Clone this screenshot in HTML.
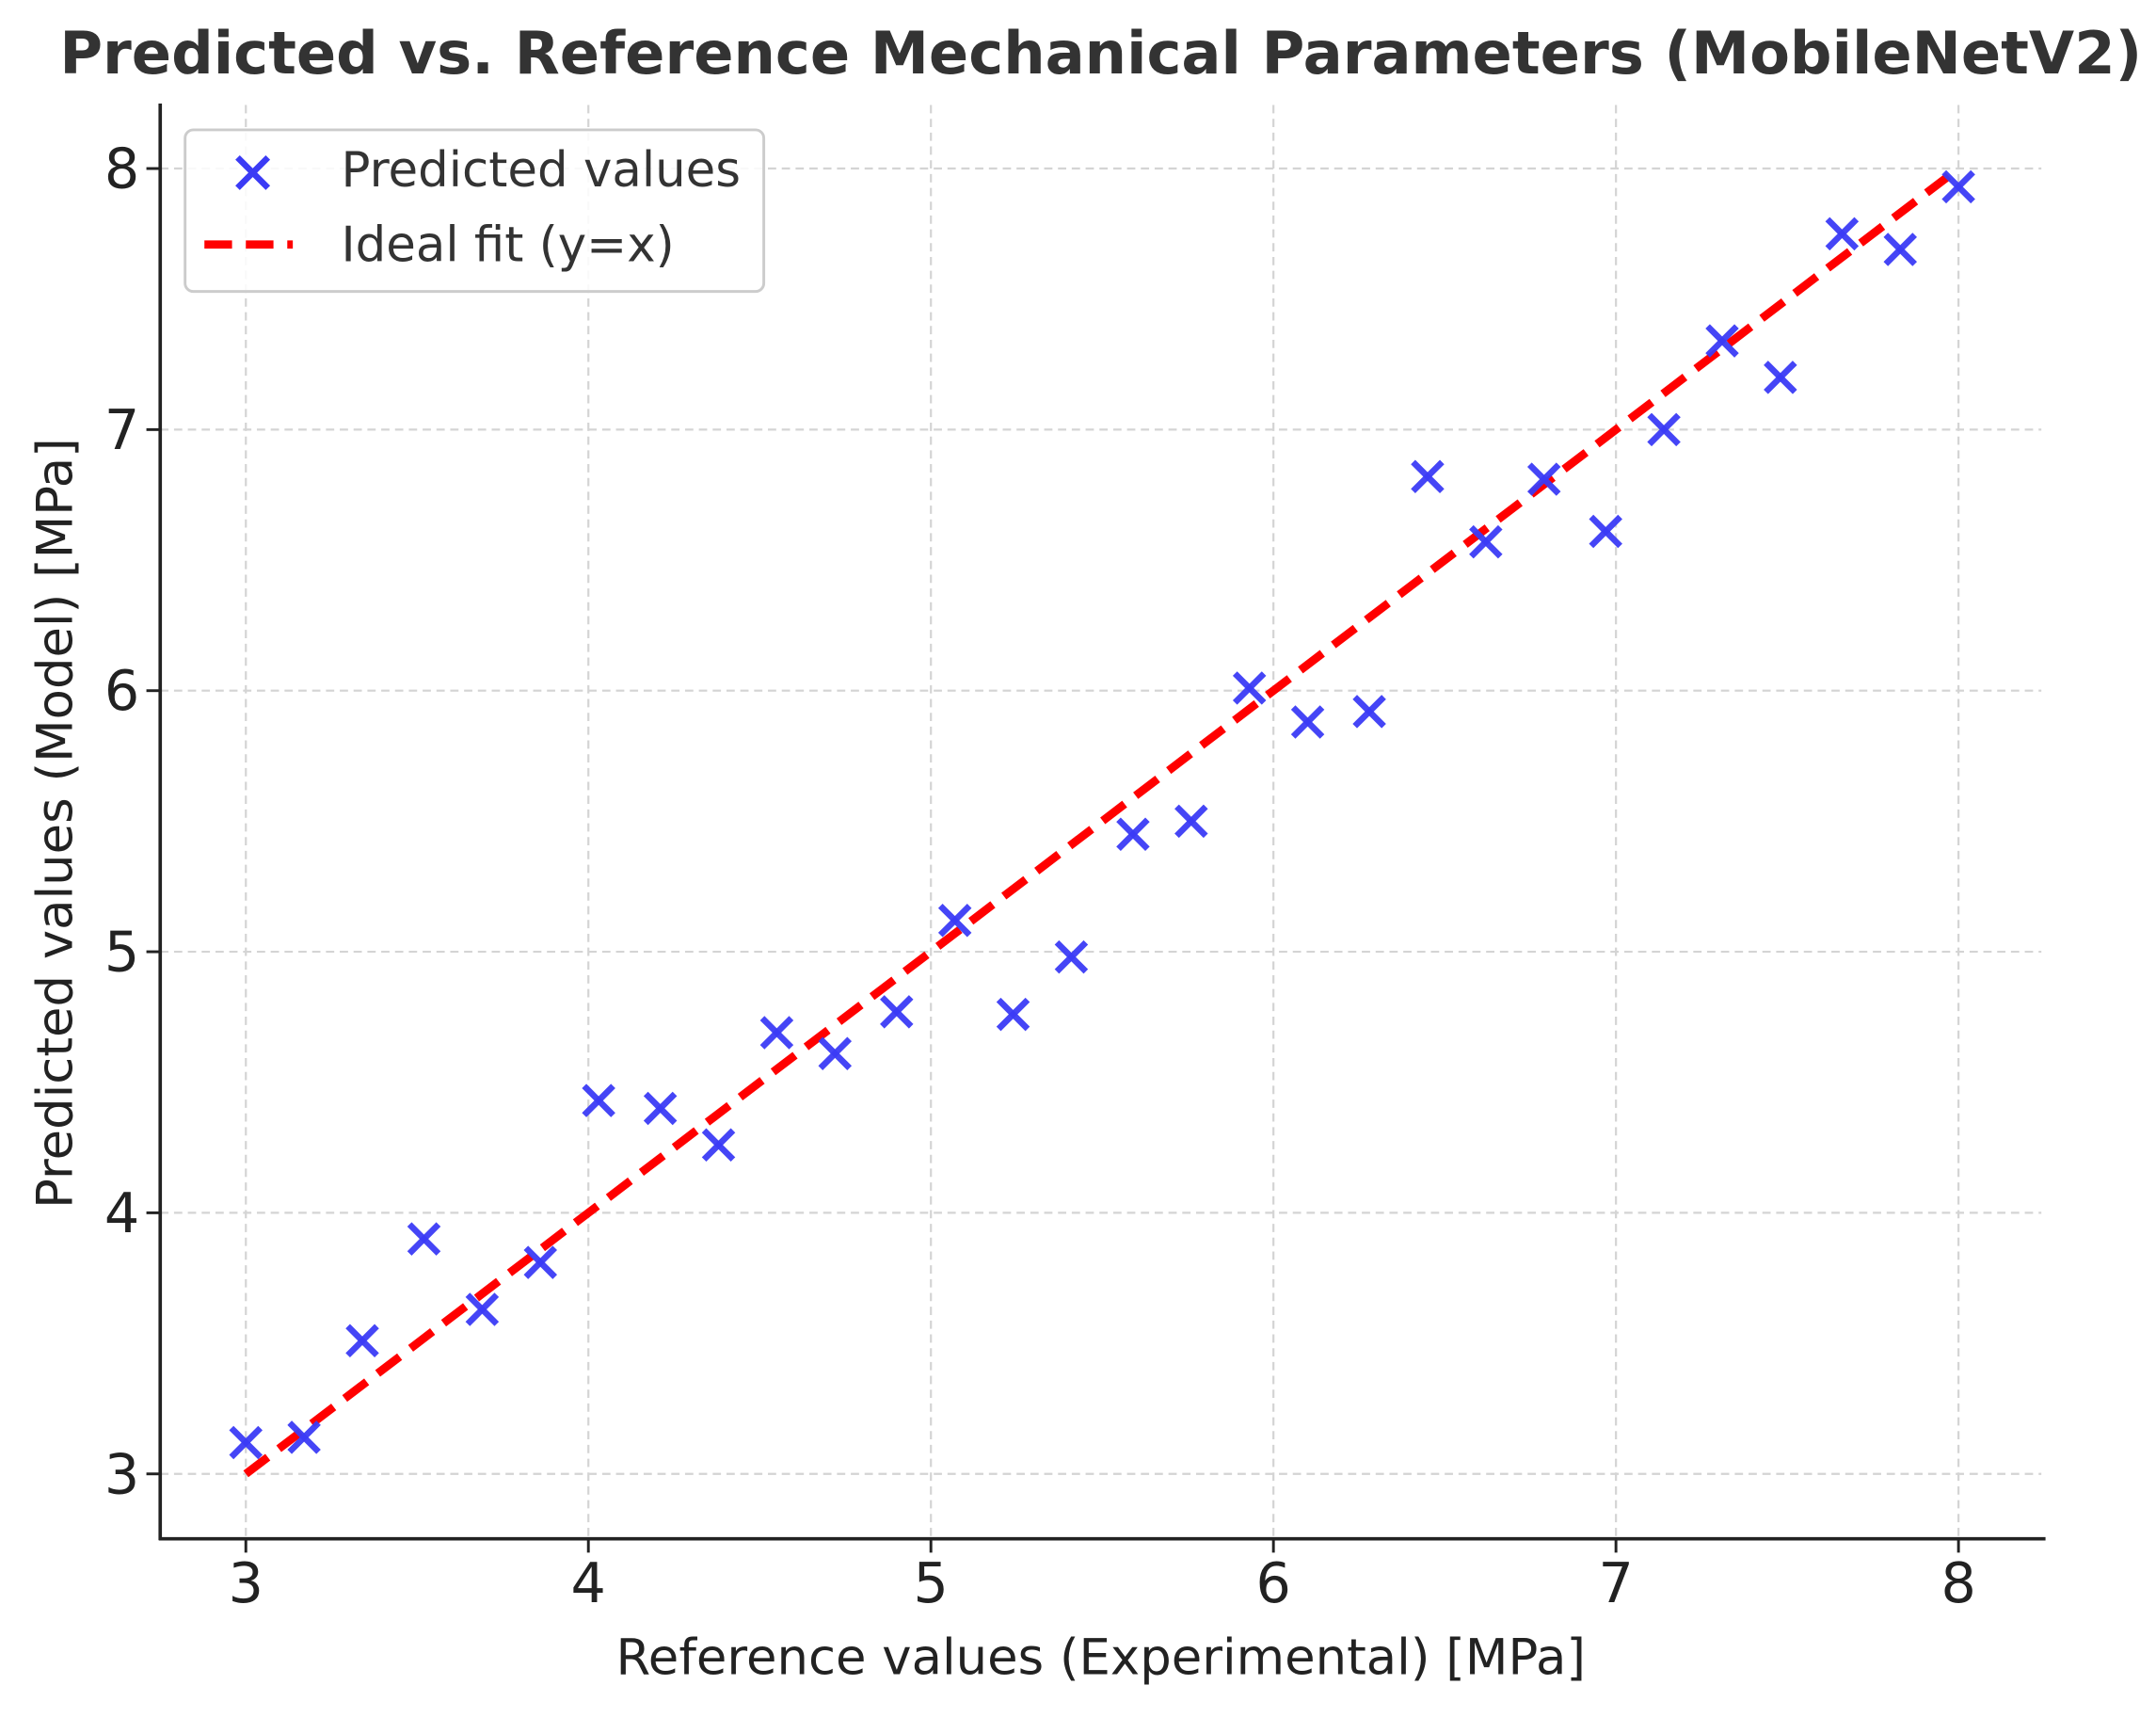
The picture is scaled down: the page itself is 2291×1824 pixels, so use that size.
<!DOCTYPE html>
<html><head><meta charset="utf-8"><style>
html,body{margin:0;padding:0;background:#fff;}
svg{display:block;font-family:"DejaVu Sans","Liberation Sans",sans-serif;}
</style></head><body>
<svg id="chart" width="2291" height="1824" viewBox="0 0 1561 1243" preserveAspectRatio="none" xmlns="http://www.w3.org/2000/svg">
<rect width="1561" height="1243" fill="#fff"/>
<text x="797" y="53" text-anchor="middle" font-size="42.5" font-weight="bold" fill="#333">Predicted vs. Reference Mechanical Parameters (MobileNetV2)</text>
<g id="grid"></g>
<g id="ideal"></g>
<g id="points"></g>
<g id="axes"></g>
<text x="797" y="1212" text-anchor="middle" font-size="36" fill="#222">Reference values (Experimental) [MPa]</text>
<text transform="translate(52,596) rotate(-90)" text-anchor="middle" font-size="36" fill="#222">Predicted values (Model) [MPa]</text>
<g>
<rect x="134" y="94" width="419" height="117" rx="6" fill="#fff" fill-opacity="0.85" stroke="#ccc" stroke-width="2"/>
<g stroke="#3b3bf5" stroke-width="4.5"><line x1="172" y1="114" x2="194" y2="136"/><line x1="172" y1="136" x2="194" y2="114"/></g>
<text x="247" y="135" font-size="35" fill="#333">Predicted values</text>
<line x1="148" y1="177" x2="212" y2="177" stroke="#ff0000" stroke-width="6" stroke-dasharray="20,10"/>
<text x="247" y="189" font-size="35" fill="#333">Ideal fit (y=x)</text>
</g>
</svg>
<script>
const xRef = [3.00,3.17,3.34,3.52,3.69,3.86,4.03,4.21,4.38,4.55,4.72,4.90,5.07,5.24,5.41,5.59,5.76,5.93,6.10,6.28,6.45,6.62,6.79,6.97,7.14,7.31,7.48,7.66,7.83,8.00];
const yPred = [3.12,3.14,3.51,3.90,3.63,3.81,4.43,4.40,4.26,4.69,4.61,4.77,5.12,4.76,4.98,5.45,5.50,6.01,5.88,5.92,6.82,6.57,6.81,6.61,7.00,7.34,7.20,7.75,7.69,7.93];
const xTicks = [3,4,5,6,7,8];
const yTicks = [3,4,5,6,7,8];
const idealRange = [3,8];

const NS = "http://www.w3.org/2000/svg";
function sx(v){return 178 + (v-3)*248;}
function sy(v){return 122 + (8-v)*189;}
function mk(tag, attrs, parent){const e=document.createElementNS(NS,tag);for(const k in attrs)e.setAttribute(k,attrs[k]);parent.appendChild(e);return e;}
const grid=document.getElementById('grid'), axes=document.getElementById('axes'), pts=document.getElementById('points'), ideal=document.getElementById('ideal');
xTicks.forEach(t=>{
  const g=mk('line',{x1:sx(t),x2:sx(t),y1:76,y2:1114,stroke:'#d4d4d4','stroke-width':1.5,'stroke-dasharray':'6,4'},grid);
  
  
  const tk=mk('line',{x1:sx(t),x2:sx(t),y1:1114,y2:1124,stroke:'#222','stroke-width':2},axes);
  
  
  const tl=mk('text',{x:sx(t),y:1160,'text-anchor':'middle','font-size':40,fill:'#222'},axes);
  tl.textContent=t;
  
  
});
yTicks.forEach(t=>{
  const g=mk('line',{x1:116,x2:1478,y1:sy(t),y2:sy(t),stroke:'#d4d4d4','stroke-width':1.5,'stroke-dasharray':'6,4'},grid);
  
  
  const tk=mk('line',{x1:106,x2:116,y1:sy(t),y2:sy(t),stroke:'#222','stroke-width':2},axes);
  
  
  const tl=mk('text',{x:101,y:sy(t)+14,'text-anchor':'end','font-size':40,fill:'#222'},axes);
  tl.textContent=t;
  
  
});
const sl=mk('line',{x1:116,x2:116,y1:75,y2:1115,stroke:'#222','stroke-width':2.5},axes);


const sb=mk('line',{x1:115,x2:1481,y1:1114,y2:1114,stroke:'#222','stroke-width':2.5},axes);


xRef.forEach((x,i)=>{
  const cx=sx(x), cy=sy(yPred[i]), r=10.5;
  const g=mk('g',{stroke:'#3b3bf5','stroke-width':4.5,'stroke-opacity':0.95},pts);
  
  
  mk('line',{x1:cx-r,y1:cy-r,x2:cx+r,y2:cy+r},g);
  mk('line',{x1:cx-r,y1:cy+r,x2:cx+r,y2:cy-r},g);
});
const il=mk('line',{x1:sx(idealRange[0]),y1:sy(idealRange[0]),x2:sx(idealRange[1]),y2:sy(idealRange[1]),stroke:'#ff0000','stroke-width':6,'stroke-dasharray':'20,10'},ideal);


</script>
</body></html>
